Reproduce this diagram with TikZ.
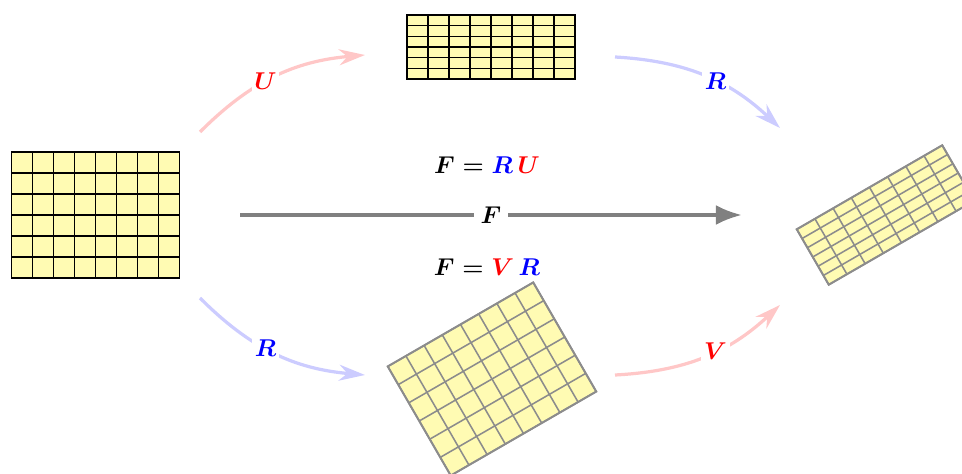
\documentclass[tikz,border=0pt]{standalone}
\usepackage{amsmath}
\usepackage{tikz}
\usetikzlibrary{arrows.meta}
\tikzset{
  cellA/.style ={fill=yellow!30, draw=black, line width=0.95pt},
  cellB/.style ={fill=yellow!30, draw=black!45, line width=1.1pt},
  mapU/.style  ={draw=red!22, line width=2.3pt, -{Stealth[length=6.5mm, width=4mm]}},
  mapR/.style  ={draw=blue!20, line width=2.3pt, -{Stealth[length=6.5mm, width=4mm]}},
  mapF/.style  ={draw=black!50, line width=2.8pt, -{Latex[length=6.5mm, width=5mm]}},
  lbl/.style   ={font=\fontsize{16.5}{19}\selectfont\boldmath, fill=white, inner sep=2pt},
  eq/.style    ={font=\fontsize{16.5}{19}\selectfont\boldmath, inner sep=1pt},
}
% grid of 8 x 6 cells centred at the origin: width, height, style
\newcommand{\cellgrid}[3]{%
  \path[#3] (-#1/2,-#2/2) rectangle (#1/2,#2/2);
  \foreach \i in {1,...,7} {\draw[#3] ({-#1/2+\i*#1/8},-#2/2) -- ++(0,#2);}
  \foreach \j in {1,...,5} {\draw[#3] (-#1/2,{-#2/2+\j*#2/6}) -- ++(#1,0);}
  \draw[#3, fill=none, line width=1.4pt] (-#1/2,-#2/2) rectangle (#1/2,#2/2);
}

\begin{document}
\begin{tikzpicture}[x=0.025cm, y=0.025cm]
  \useasboundingbox (0,0) rectangle (962,474);

  % the four grids
  \begin{scope}[shift={(95.5,259)}]
    \cellgrid{168}{126}{cellA}
  \end{scope}
  \begin{scope}[shift={(491,427)}]
    \cellgrid{168}{64}{cellA}
  \end{scope}
  \begin{scope}[shift={(492,95)}, rotate=30]
    \cellgrid{168}{126}{cellB}
  \end{scope}
  \begin{scope}[shift={(885.5,259)}, rotate=30]
    \cellgrid{168}{64}{cellB}
  \end{scope}

  % arrow ends
  \coordinate (u0) at (200,342);
  \coordinate (u1) at (365,419);
  \coordinate (r0) at (615,417);
  \coordinate (r1) at (780,346);
  \coordinate (s0) at (200,176);
  \coordinate (s1) at (365,99);
  \coordinate (v0) at (615,99);
  \coordinate (v1) at (780,169);
  \coordinate (f0) at (240,259);
  \coordinate (f1) at (742,259);

  \draw[mapU] (u0) to[bend left=20] node[lbl, pos=0.44] (lu) {$\color{red}U$} (u1);
  \draw[mapR] (r0) to[bend left=20] node[lbl, pos=0.57] (lr) {$\color{blue}R$} (r1);
  \draw[mapR] (s0) to[bend right=20] node[lbl, pos=0.44] (ls) {$\color{blue}R$} (s1);
  \draw[mapU] (v0) to[bend right=20] node[lbl, pos=0.57] (lv) {$\color{red}V$} (v1);
  \draw[mapF] (f0) -- node[lbl, inner sep=5pt] (lf) {$F$} (f1);

  \node[eq] (eqa) at (487,309) {$F = {\color{blue}R}\,{\color{red}U}$};
  \node[eq] (eqb) at (487,207) {$F = {\color{red}V}\,{\color{blue}R}$};
\end{tikzpicture}
\end{document}
